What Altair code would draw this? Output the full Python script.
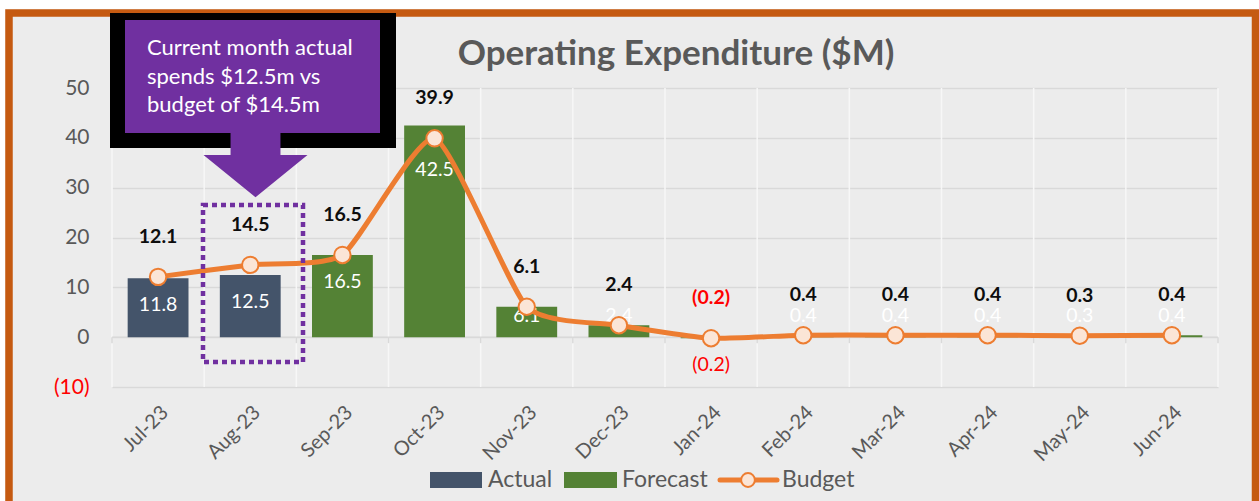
import altair as alt
import pandas as pd

# ---------------- data ----------------
months = ["Jul-23", "Aug-23", "Sep-23", "Oct-23", "Nov-23", "Dec-23",
          "Jan-24", "Feb-24", "Mar-24", "Apr-24", "May-24", "Jun-24"]
actual = [11.8, 12.5]
forecast = [16.5, 42.5, 6.1, 2.4, -0.2, 0.4, 0.4, 0.4, 0.3, 0.4]
budget = [12.1, 14.5, 16.5, 39.9, 6.1, 2.4, -0.2, 0.4, 0.4, 0.4, 0.3, 0.4]
series_names = ["Actual", "Forecast", "Budget"]
y_ticks = [-10, 0, 10, 20, 30, 40, 50]
title_text = "Operating Expenditure ($M)"
note_lines = ["Current month actual", "spends $12.5m vs", "budget of $14.5m"]

bar_df = pd.DataFrame({
    "month": months,
    "value": actual + forecast,
    "series": [series_names[0]] * len(actual) + [series_names[1]] * len(forecast),
})
bud_df = pd.DataFrame({"month": months, "budget": budget})
one = pd.DataFrame({"k": [0]})

# ---------------- style ----------------
FONT = "Lato"
GRAY = "#595959"
ORANGE = "#ed7d31"
PURPLE = "#7030a0"
W, H = 1106, 299
PAD = {"left": 112, "top": 88, "right": 41, "bottom": 114}
P_IN = 0.34
HALF_GAP = P_IN * (W / 12) / 2

xscale = alt.Scale(paddingInner=P_IN, paddingOuter=P_IN / 2)
yscale = alt.Scale(domain=[-10, 50], nice=False, zero=False)

XAXIS = alt.Axis(orient="bottom", labelAngle=-45, labelFont=FONT, labelFontSize=20,
                 labelColor=GRAY, labelPadding=15, domain=False, ticks=False, grid=False)
YAXIS = alt.Axis(values=y_ticks, format="(d", labelFont=FONT, labelFontSize=21,
                 labelColor=alt.condition("datum.value < 0", alt.value("#ff0000"),
                                          alt.value(GRAY)),
                 labelPadding=23, domain=False, ticks=False, grid=True,
                 gridColor="#d9d9d9", gridWidth=1.5)


def X(**kw):
    return alt.X("month:N", sort=months, scale=xscale, axis=XAXIS, title=None, **kw)


def Y(field):
    return alt.Y(field, scale=yscale, axis=YAXIS, title=None)


def box(x1, x2, y1, y2, **kw):
    return alt.Chart(one).mark_rect(**kw).encode(
        x=alt.value(x1), x2=alt.value(x2), y=alt.value(y1), y2=alt.value(y2))


def label(x, y, text, **kw):
    return alt.Chart(one).mark_text(text=text, font=FONT, **kw).encode(
        x=alt.value(x), y=alt.value(y))


# frame
strip_top = box(-112, W + 41, -88, -78.75, color="white")
strip_left = box(-112, -106.75, -88, H + 114, color="white")
frame = box(-103, 1143.5, -75, 430, fillOpacity=0, stroke="#c55a11", strokeWidth=7.5)

# vertical gridlines between categories + zero line with ticks
zero_df = bar_df.assign(zero=0)
last_df = zero_df[zero_df["month"] == months[-1]]
vgrid = alt.Chart(zero_df).mark_rule(color="#f7f7f7", strokeWidth=1.5, xOffset=-HALF_GAP).encode(
    x=X(bandPosition=0), y=alt.value(0), y2=alt.value(H))
vgrid_end = alt.Chart(last_df).mark_rule(color="#f7f7f7", strokeWidth=1.5, xOffset=HALF_GAP).encode(
    x=X(bandPosition=1), y=alt.value(0), y2=alt.value(H))
zero_line = alt.Chart(one).transform_calculate(zero="0").mark_rule(
    color="#d9d9d9", strokeWidth=1.5).encode(
    x=alt.value(0), x2=alt.value(W), y=Y("zero:Q"))
ticks = alt.Chart(zero_df).mark_rule(color="#d9d9d9", strokeWidth=1.5, xOffset=-HALF_GAP,
                                     y2Offset=6).encode(
    x=X(bandPosition=0), y=Y("zero:Q"), y2=alt.Y2("zero:Q"))
ticks_end = alt.Chart(last_df).mark_rule(color="#d9d9d9", strokeWidth=1.5, xOffset=HALF_GAP,
                                         y2Offset=6).encode(
    x=X(bandPosition=1), y=Y("zero:Q"), y2=alt.Y2("zero:Q"))

bars = alt.Chart(bar_df).mark_bar().encode(
    x=X(), y=Y("value:Q"),
    color=alt.Color("series:N", scale=alt.Scale(domain=series_names[:2],
                                                range=["#44546a", "#548235"]), legend=None),
)

bar_labels = alt.Chart(bar_df).transform_calculate(
    pos="datum.value < 0 ? datum.value : min(max(datum.value, 9.6), 39)"
).mark_text(font=FONT, fontSize=19.5, dy=27, baseline="middle").encode(
    x=X(), y=Y("pos:Q"),
    text=alt.Text("value:Q", format="(.1f"),
    color=alt.condition("datum.value < 0", alt.value("#ff0000"), alt.value("white")),
)

line = alt.Chart(bud_df).mark_line(color=ORANGE, strokeWidth=5, interpolate="cardinal",
                                   tension=0.45, strokeCap="round",
                                   strokeJoin="round").encode(x=X(), y=Y("budget:Q"))
points = alt.Chart(bud_df).mark_point(shape="circle", filled=True, fill="#fbe5d6",
                                      stroke=ORANGE, strokeWidth=2, size=270,
                                      opacity=1).encode(x=X(), y=Y("budget:Q"))

blabels = alt.Chart(bud_df).mark_text(
    font=FONT, fontSize=19.5, fontWeight="bold", dy=-40, baseline="middle").encode(
    x=X(), y=Y("budget:Q"),
    text=alt.Text("budget:Q", format="(.1f"),
    color=alt.condition("datum.budget < 0", alt.value("#ff0000"), alt.value("#0d0d0d")),
)

title = label(564, -23, title_text, fontSize=35, fontWeight="bold", color=GRAY,
              align="center", baseline="alphabetic")

# annotation
black_box = box(-2, 284, -75, 60, color="black")
purple_box = box(13, 268, -68, 45, color=PURPLE)
note = label(35, -33, note_lines, fontSize=22, color="white", align="left",
             baseline="alphabetic", lineHeight=28.5)
arrow_path = "M-0.48,-0.62 L0.48,-0.62 L0.48,-0.19 L1,-0.19 L0,0.62 L-1,-0.19 L-0.48,-0.19 Z"
arrow = alt.Chart(one).mark_point(shape=arrow_path, filled=True, color=PURPLE, opacity=1,
                                  size=104 * 104).encode(x=alt.value(143.5), y=alt.value(77))
dotted = box(91, 191, 117, 274, fillOpacity=0, stroke=PURPLE, strokeWidth=4.5,
             strokeDash=[5, 4])

# legend
leg_a = box(318, 370, 384, 400, color="#44546a")
leg_a_t = label(376, 399, series_names[0], fontSize=23, color=GRAY, align="left",
                baseline="alphabetic")
leg_f = box(452, 505, 384, 400, color="#548235")
leg_f_t = label(510, 399, series_names[1], fontSize=23, color=GRAY, align="left",
                baseline="alphabetic")
leg_b_line = alt.Chart(one).mark_rule(color=ORANGE, strokeWidth=5, strokeCap="round").encode(
    x=alt.value(608), x2=alt.value(665), y=alt.value(392))
leg_b_pt = alt.Chart(one).mark_point(shape="circle", filled=True, fill="#fbe5d6",
                                     stroke=ORANGE, strokeWidth=2, size=190,
                                     opacity=1).encode(x=alt.value(636), y=alt.value(392))
leg_b_t = label(670, 399, series_names[2], fontSize=23, color=GRAY, align="left",
                baseline="alphabetic")

chart = alt.layer(
    strip_top, strip_left, frame, vgrid, vgrid_end, zero_line, ticks, ticks_end,
    bars, bar_labels, line, points, blabels, title,
    black_box, purple_box, note, arrow, dotted,
    leg_a, leg_a_t, leg_f, leg_f_t, leg_b_line, leg_b_pt, leg_b_t,
).properties(
    width=W, height=H, padding=PAD,
    autosize=alt.AutoSizeParams(type="none"),
    background="#ececec",
).configure_view(strokeWidth=0)

chart.save("out.html", embed_options={"renderer": "svg", "actions": False})
